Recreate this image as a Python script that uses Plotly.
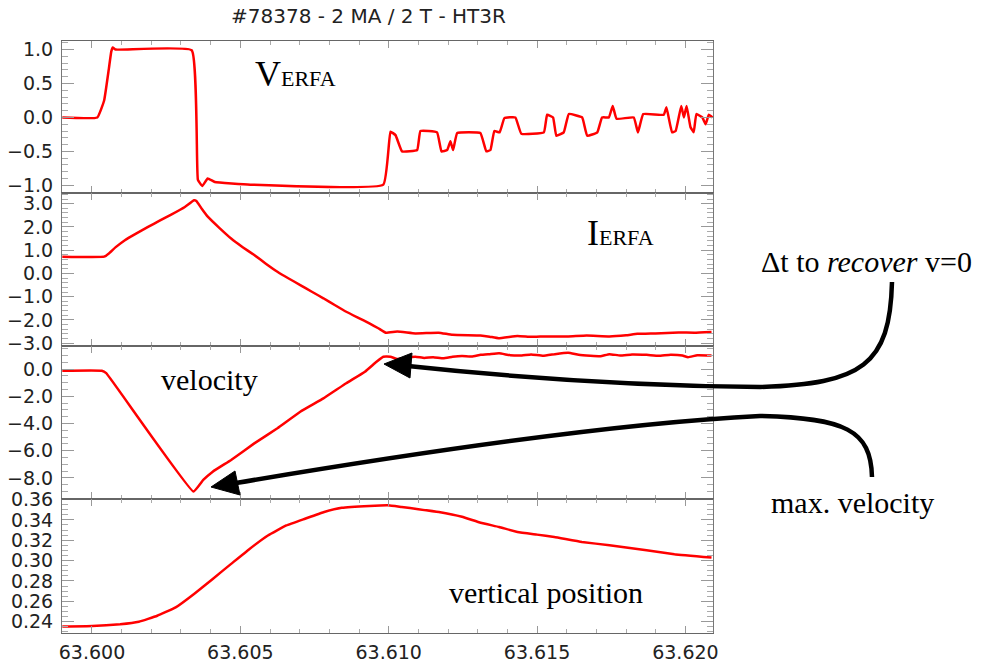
import plotly.graph_objects as go
from plotly.subplots import make_subplots

# ---------------- data (time in s) ----------------
t_v = [63.59900, 63.60018, 63.60041, 63.60057, 63.60065, 63.60070, 63.60080, 63.60336, 63.60357, 63.60372,
       63.60390, 63.60414, 63.60534, 63.60982, 63.61006, 63.61023, 63.61045, 63.61096, 63.61107, 63.61163,
       63.61178, 63.61197, 63.61208, 63.61217, 63.61231, 63.61309, 63.61329, 63.61343, 63.61356, 63.61374,
       63.61390, 63.61427, 63.61447, 63.61523, 63.61534, 63.61554, 63.61565, 63.61590, 63.61607, 63.61652,
       63.61669, 63.61703, 63.61719, 63.61742, 63.61755, 63.61768, 63.61826, 63.61840, 63.61858, 63.61927,
       63.61936, 63.61955, 63.61967, 63.61986, 63.61995, 63.62004, 63.62017, 63.62028, 63.62037, 63.62057,
       63.62068, 63.62079, 63.62091]
v_erfa = [0.0, 0.0, 0.25, 0.72, 0.97, 1.03, 1.0, 0.99, -0.92, -1.01,
          -0.9, -0.95, -0.99, -0.99, -0.21, -0.26, -0.5, -0.48, -0.2, -0.22,
          -0.5, -0.48, -0.35, -0.48, -0.23, -0.23, -0.5, -0.48, -0.2, -0.22,
          -0.01, 0.0, -0.24, -0.22, 0.04, 0.0, -0.27, -0.22, 0.05, 0.0,
          -0.27, -0.22, 0.0, 0.0, 0.17, -0.02, 0.0, -0.22, 0.05, 0.04,
          0.15, -0.22, -0.2, 0.17, 0.0, 0.17, -0.14, -0.22, 0.05, 0.0,
          -0.1, 0.04, 0.0]

t_i = [63.59900, 63.60041, 63.60057, 63.60080, 63.60111, 63.60150, 63.60189, 63.60228, 63.60267, 63.60313,
       63.60344, 63.60352, 63.60370, 63.60391, 63.60430, 63.60469, 63.60508, 63.60547, 63.60586, 63.60625,
       63.60663, 63.60702, 63.60741, 63.60780, 63.60818, 63.60857, 63.60896, 63.60935, 63.60965, 63.60990,
       63.61029, 63.61090, 63.61168, 63.61215, 63.61309, 63.61340, 63.61370, 63.61434, 63.61480, 63.61527,
       63.61605, 63.61667, 63.61744, 63.61800, 63.61838, 63.61899, 63.61977, 63.62030, 63.62088]
i_erfa = [0.72, 0.72, 0.86, 1.13, 1.43, 1.72, 2.0, 2.27, 2.53, 2.86,
          3.15, 3.12, 2.78, 2.43, 1.95, 1.5, 1.13, 0.79, 0.42, 0.07,
          -0.22, -0.5, -0.79, -1.07, -1.36, -1.65, -1.9, -2.15, -2.36, -2.55,
          -2.5, -2.58, -2.55, -2.64, -2.67, -2.72, -2.79, -2.69, -2.73, -2.71,
          -2.71, -2.67, -2.71, -2.66, -2.6, -2.58, -2.54, -2.55, -2.52]

t_vel = [63.59900, 63.60033, 63.60048, 63.60342, 63.60375, 63.60407, 63.60469, 63.60547, 63.60625, 63.60702,
         63.60780, 63.60857, 63.60920, 63.60959, 63.60982, 63.61006, 63.61029, 63.61060, 63.61090, 63.61120,
         63.61150, 63.61184, 63.61215, 63.61247, 63.61280, 63.61310, 63.61340, 63.61372, 63.61410, 63.61449,
         63.61480, 63.61520, 63.61560, 63.61605, 63.61640, 63.61680, 63.61714, 63.61744, 63.61780, 63.61820,
         63.61869, 63.61910, 63.61950, 63.61990, 63.62009, 63.62040, 63.62088]
vel = [-0.12, -0.12, -0.3, -9.0, -8.15, -7.54, -6.68, -5.46, -4.35, -3.13,
       -2.15, -1.04, -0.19, 0.54, 0.91, 0.91, 0.74, 0.85, 0.91, 0.82,
       0.88, 0.79, 0.9, 0.96, 0.92, 1.05, 1.1, 1.16, 1.02, 1.0,
       1.08, 0.98, 1.1, 1.2, 1.05, 0.98, 0.95, 1.1, 1.0, 1.08,
       1.05, 0.98, 1.06, 1.0, 0.87, 1.02, 1.0]

t_z = [63.59900, 63.60001, 63.60095, 63.60158, 63.60220, 63.60282, 63.60344, 63.60407, 63.60469, 63.60531,
       63.60593, 63.60655, 63.60718, 63.60780, 63.60842, 63.60935, 63.60998, 63.61044, 63.61100, 63.61169,
       63.61247, 63.61310, 63.61372, 63.61434, 63.61500, 63.61558, 63.61651, 63.61744, 63.61869, 63.61963,
       63.62088]
z_pos = [0.2352, 0.2357, 0.2375, 0.2400, 0.2458, 0.2540, 0.2672, 0.2820, 0.2968, 0.3115,
         0.3247, 0.3345, 0.3411, 0.3475, 0.3519, 0.3537, 0.3543, 0.3526, 0.3505, 0.3477,
         0.3430, 0.3372, 0.3330, 0.3281, 0.3255, 0.3232, 0.3183, 0.3151, 0.3102, 0.3063,
         0.3030]

x_ticks = [63.600, 63.605, 63.610, 63.615, 63.620]
x_range = [63.59899, 63.62093]
y_ranges = [[-1.113, 1.126], [-3.11, 3.46], [-9.57, 1.72], [0.2289, 0.3602]]
y_dticks = [0.5, 1.0, 2.0, 0.02]
y_minor = [0.1, 0.2, 0.5, 0.005]
y_formats = [".1f", ".1f", ".1f", ".2f"]

# ---------------- layout geometry ----------------
W, H = 981, 667
ML, MR, MT, MB = 62, 268, 41, 34
PW, PH = W - ML - MR, H - MT - MB
bounds = [41, 193, 345.7, 499.3, 633]


def px(x):
    return (x - ML) / PW


def py(y):
    return (H - MB - y) / PH


fig = make_subplots(rows=4, cols=1, shared_xaxes=True, vertical_spacing=0)

series = [(t_v, v_erfa), (t_i, i_erfa), (t_vel, vel), (t_z, z_pos)]
for k, (tt, yy) in enumerate(series):
    fig.add_trace(go.Scatter(x=tt, y=yy, mode="lines",
                             line=dict(color="#ff0000", width=2.5, shape="spline", smoothing=0.3),
                             showlegend=False, hoverinfo="skip"),
                  row=k + 1, col=1)

tickfont = dict(family="DejaVu Sans", size=19, color="#222")
for k in range(4):
    yname = "yaxis" if k == 0 else f"yaxis{k + 1}"
    xname = "xaxis" if k == 0 else f"xaxis{k + 1}"
    fig.layout[yname].update(
        domain=[py(bounds[k + 1]), py(bounds[k])], automargin=False,
        range=y_ranges[k], dtick=y_dticks[k], tick0=0, tickformat=y_formats[k],
        showgrid=False, zeroline=False, showline=True, mirror="allticks",
        linecolor="#777", linewidth=1, ticks="inside", ticklen=12, tickwidth=1,
        tickcolor="#999", tickfont=tickfont, ticklabelstandoff=4,
        minor=dict(ticks="inside", ticklen=6, dtick=y_minor[k], tick0=0,
                   tickcolor="#aaa", showgrid=False),
    )
    fig.layout[xname].update(
        range=x_range, tickvals=x_ticks, tickformat=".3f", automargin=False,
        showgrid=False, zeroline=False, showline=True, mirror="allticks",
        linecolor="#666", linewidth=1, ticks="inside", ticklen=7, tickwidth=1,
        tickcolor="#999", tickfont=tickfont, showticklabels=(k == 3),
        ticklabelstandoff=2,
        minor=dict(ticks="inside", ticklen=4, dtick=0.001, tick0=63.6,
                   tickcolor="#aaa", showgrid=False),
    )

serif = "Liberation Serif, Times New Roman, serif"
ann = [
    dict(x=px(368), y=py(16), text="#78378 - 2 MA / 2 T - HT3R",
         font=dict(family="DejaVu Sans", size=20, color="#222")),
    dict(x=px(295), y=py(74), text="V<span style='font-size:22px'>ERFA</span>",
         font=dict(family=serif, size=36, color="#000")),
    dict(x=px(620), y=py(233), text="I<span style='font-size:22px'>ERFA</span>",
         font=dict(family=serif, size=36, color="#000")),
    dict(x=px(209), y=py(379), text="velocity",
         font=dict(family=serif, size=30, color="#000")),
    dict(x=px(546), y=py(592), text="vertical position",
         font=dict(family=serif, size=30, color="#000")),
    dict(x=px(866), y=py(261), text="Δt to <i>recover</i> v=0",
         font=dict(family=serif, size=30, color="#000")),
    dict(x=px(852), y=py(502), text="max. velocity",
         font=dict(family=serif, size=30, color="#000")),
]
for a in ann:
    a.update(xref="paper", yref="paper", showarrow=False,
             xanchor="center", yanchor="middle")
fig.update_layout(annotations=ann)


def P(x, y):
    return f"{px(x):.5f},{py(y):.5f}"


def curve(p0, segs):
    s = "M " + P(*p0)
    for c1, c2, e in segs:
        s += " C " + P(*c1) + " " + P(*c2) + " " + P(*e)
    return s


def tri(a, b, c):
    return "M " + P(*a) + " L " + P(*b) + " L " + P(*c) + " Z"


shapes = [
    # arrow 1 (recover v=0)
    dict(type="path", path=curve((892, 282), [((890, 365), (862, 384), (760, 387)),
                                              ((640, 386), (520, 378), (408, 366))]),
         line=dict(color="#000", width=4.5)),
    dict(type="path", path=tri((384, 364), (412, 353), (410, 378)),
         line=dict(color="#000", width=1), fillcolor="#000"),
    # arrow 2 (max velocity)
    dict(type="path", path=curve((872, 477), [((871, 430), (845, 418), (760, 416)),
                                              ((620, 423), (420, 452), (236, 483))]),
         line=dict(color="#000", width=4.5)),
    dict(type="path", path=tri((211, 487), (235, 471), (240, 495)),
         line=dict(color="#000", width=1), fillcolor="#000"),
]
for s in shapes:
    s.update(xref="paper", yref="paper", layer="above")
fig.update_layout(shapes=shapes)

fig.update_layout(width=W, height=H, margin=dict(l=ML, r=MR, t=MT, b=MB, autoexpand=False),
                  paper_bgcolor="white", plot_bgcolor="white", showlegend=False)

fig.write_html("out.html")
